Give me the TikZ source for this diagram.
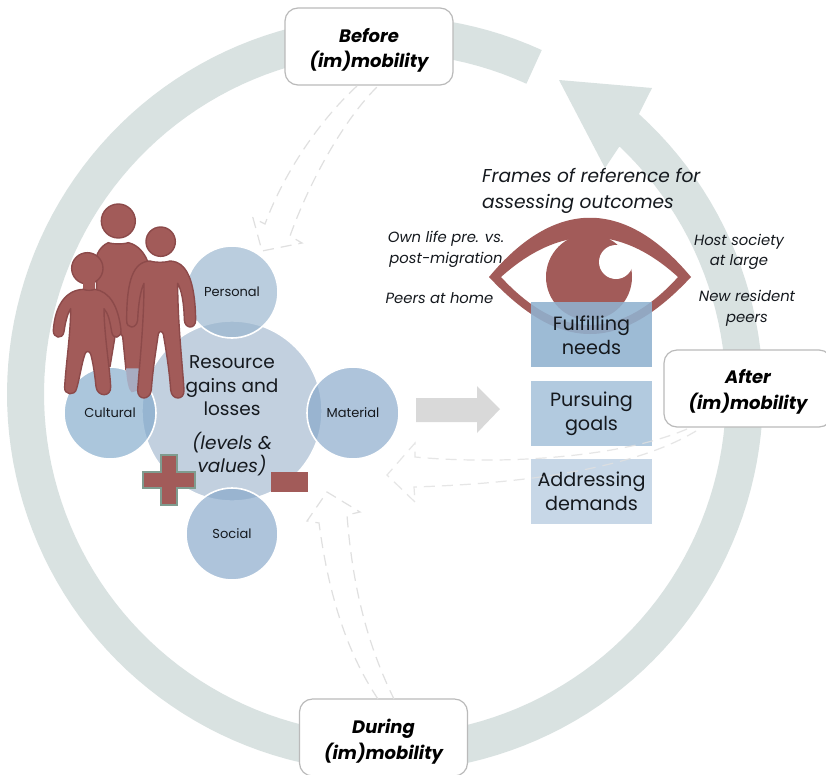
\documentclass[tikz,border=0pt]{standalone}
\usepackage{fontspec}
\setmainfont{Poppins}
\definecolor{ringc}{HTML}{D9E2E1}
\definecolor{redc}{HTML}{A25B59}
\definecolor{redd}{HTML}{8C4A4A}
\definecolor{dashc}{HTML}{E0E0E0}
\definecolor{inkc}{HTML}{15191E}
\definecolor{bigc}{HTML}{C2D0DF}
\definecolor{persc}{RGB}{151,180,205}
\definecolor{cultc}{RGB}{127,168,203}
\definecolor{matc}{RGB}{132,166,201}
\definecolor{needa}{RGB}{144,178,208}
\definecolor{needb}{HTML}{B2CADF}
\definecolor{needc}{HTML}{C7D7E7}
\definecolor{plusc}{HTML}{7F9C8F}
\definecolor{legc}{HTML}{A7ABC0}
\tikzset{
 x=1pt,y=-1pt,
 phase/.style={draw=black!27,line width=1.2pt,fill=white,rounded corners=13pt,minimum width=168pt,minimum height=77pt,inner sep=0pt},
 phasetxt/.style={align=center,font=\fontsize{18}{25.5}\selectfont\bfseries\itshape,text=black},
 res/.style={circle,minimum size=92pt,inner sep=0pt,draw=white,line width=1.6pt,fill opacity=.655,text opacity=1,draw opacity=1,font=\fontsize{13}{15}\selectfont,text=inkc},
 need/.style={minimum width=121pt,minimum height=65pt,inner sep=0pt},
 needtxt/.style={align=center,font=\fontsize{19.2}{23.5}\selectfont,text=inkc},
 frametxt/.style={align=center,font=\fontsize{14.8}{20.5}\selectfont\itshape,text=inkc},
 back/.style={dashc,line width=1.2pt,dash pattern=on 11pt off 7pt},
 person/.style={fill=redc,draw=redd,line width=1.4pt,line join=round},
}
\begin{document}
\begin{tikzpicture}
\useasboundingbox (0,0) rectangle (826,774);
\fill[white] (0,0) rectangle (826,774);
% ring
\fill[ringc] plot[domain=-65.5:-407.8,samples=160] ({385+378*cos(\x)},{394+378*sin(\x)})
  -- (652,88) -- (559,80) -- (605,168) -- (619,147)
  -- plot[domain=-406.5:-65.5,samples=160] ({385+341*cos(\x)},{394+341*sin(\x)}) -- cycle;
% phases
\node[phase] (before) at (369,46.5) {};
\node[phasetxt] (beforetxt) at (369,50.5) {Before\\(im)mobility};
\node[phase] (after) at (748,388.5) {};
\node[phasetxt] (aftertxt) at (748,392) {After\\(im)mobility};
\node[phase] (during) at (383.5,737.5) {};
\node[phasetxt] (duringtxt) at (383.5,741.5) {During\\(im)mobility};
% dashed block arrows
\draw[back] (357,86) .. controls (322,118) and (285,170) .. (265,224) -- (253,218) -- (262,251) -- (302,243) -- (290,236) .. controls (310,180) and (345,118) .. (378,86);
\draw[back] (378,699) .. controls (345,650) and (328,590) .. (319,523) -- (307,521) -- (327,492) -- (360,512) -- (347,515) .. controls (352,580) and (365,640) .. (394,699);
% eye
\fill[redc,even odd rule] (489,277) .. controls (555,198) and (625,198) .. (691,277) .. controls (620,353) and (560,353) .. (489,277) -- cycle
  (501,277) .. controls (560,224) and (620,224) .. (678,277) .. controls (620,341) and (560,341) .. (501,277) -- cycle;
\fill[redc] (589,277) circle[radius=43];
\fill[white] (616,262) circle[radius=17];
% needs
\node[need,fill=needa,fill opacity=.88] (fulfil) at (591.5,334.5) {};
\node[needtxt] (fulfiltxt) at (591.5,335) {Fulfilling\\needs};
\node[need,fill=needb] (pursue) at (591.5,413.5) {};
\node[needtxt] (pursuetxt) at (591.5,414) {Pursuing\\goals};
\node[need,fill=needc] (address) at (591.5,491.5) {};
\node[needtxt] (addresstxt) at (591.5,491.5) {Addressing\\demands};
\draw[back,draw opacity=.8] (687,429) .. controls (620,458) and (500,465) .. (415,457) -- (415,443) -- (387,475) -- (415,502) -- (414,487) .. controls (540,483) and (640,465) .. (696,431);
% grey arrow
\fill[black!15] (416,398) -- (477,398) -- (477,386) -- (500,409) -- (477,433) -- (477,422) -- (416,422) -- cycle;
% resource circles
\node[circle,minimum size=180pt,inner sep=0pt,fill=bigc,draw=white,line width=1.4pt] (big) at (232,411) {};
\node[res,fill=persc] (personal) at (232,292) {Personal};
\node[res,fill=cultc] (cultural) at (110,413) {Cultural};
\node[res,fill=matc] (material) at (353,413) {Material};
\node[res,fill=matc] (social) at (232,534) {Social};
\node[align=center,font=\fontsize{18.5}{23.5}\selectfont,text=inkc] (restxt) at (232,386) {Resource\\gains and\\losses};
\node[align=center,font=\fontsize{18.5}{23.5}\selectfont\itshape,text=inkc] (levels) at (232,454) {(levels \&\\values)};
% people
\begin{scope}[shift={(30,190)},scale=1/3]
 % back person
 \draw[person] (265,93) circle[radius=51];
 \draw[person] (235,158) .. controls (250,163) and (280,163) .. (295,158) .. controls (325,165) and (345,190) .. (355,220) -- (340,540) -- (288,540) -- (278,440) .. controls (272,425) and (262,425) .. (255,440) -- (240,530) -- (200,530) -- (200,230) .. controls (190,210) and (205,170) .. (235,158) -- cycle;
 % translucent leg end
 \fill[legc] (288,535) -- (330,535) -- (330,600) -- (305,607) .. controls (295,600) and (290,570) .. (288,535) -- cycle;
 % child
 \draw[person] (172,235) circle[radius=47];
 \fill[redc] (158,270) rectangle (195,305);
 \draw[person] (160,298) .. controls (170,302) and (185,302) .. (195,298) .. controls (240,305) and (265,350) .. (273,420) .. controls (275,445) and (248,450) .. (245,425) .. controls (240,395) and (235,370) .. (222,356) .. controls (222,430) and (240,540) .. (242,590) .. controls (244,622) and (202,622) .. (198,590) .. controls (195,560) and (190,520) .. (182,492) .. controls (178,482) and (168,482) .. (165,492) .. controls (155,520) and (150,560) .. (140,595) .. controls (135,620) and (100,615) .. (104,590) .. controls (108,520) and (122,430) .. (122,356) .. controls (110,375) and (105,405) .. (102,425) .. controls (98,450) and (68,445) .. (70,420) .. controls (75,350) and (105,300) .. (160,298) -- cycle;
 % man
 \draw[person] (392,155) circle[radius=44];
 \draw[person] (360,213) .. controls (375,218) and (405,218) .. (420,213) .. controls (470,215) and (495,270) .. (497,390) .. controls (497,418) and (465,418) .. (463,390) .. controls (462,340) and (455,300) .. (443,280) .. controls (443,400) and (458,530) .. (462,600) .. controls (464,632) and (425,632) .. (422,600) .. controls (418,540) and (408,480) .. (400,432) .. controls (396,422) and (388,422) .. (385,432) .. controls (378,480) and (368,540) .. (364,600) .. controls (360,632) and (322,632) .. (323,600) .. controls (328,530) and (342,400) .. (342,280) .. controls (332,300) and (325,340) .. (323,390) .. controls (320,418) and (288,418) .. (290,390) .. controls (290,270) and (310,215) .. (360,213) -- cycle;
\end{scope}
% plus and minus
\fill[redc,draw=plusc,line width=2pt] (161,455) -- (177,455) -- (177,472) -- (195,472) -- (195,488) -- (177,488) -- (177,505) -- (161,505) -- (161,488) -- (143,488) -- (143,472) -- (161,472) -- cycle;
\fill[redc] (271,472) rectangle (308,492);
% frames
\node[anchor=west,align=left,font=\fontsize{18.6}{26}\selectfont\itshape,text=inkc,inner sep=0pt] (title) at (482,190.5) {Frames of reference for\\assessing outcomes};
\node[frametxt] (own) at (446,249.5) {Own life pre. vs.\\post-migration};
\node[frametxt] (peers) at (439.5,298) {Peers at home};
\node[frametxt] (host) at (739,252) {Host society\\at large};
\node[frametxt] (newres) at (747,308.5) {New resident\\peers};
\end{tikzpicture}
\end{document}
